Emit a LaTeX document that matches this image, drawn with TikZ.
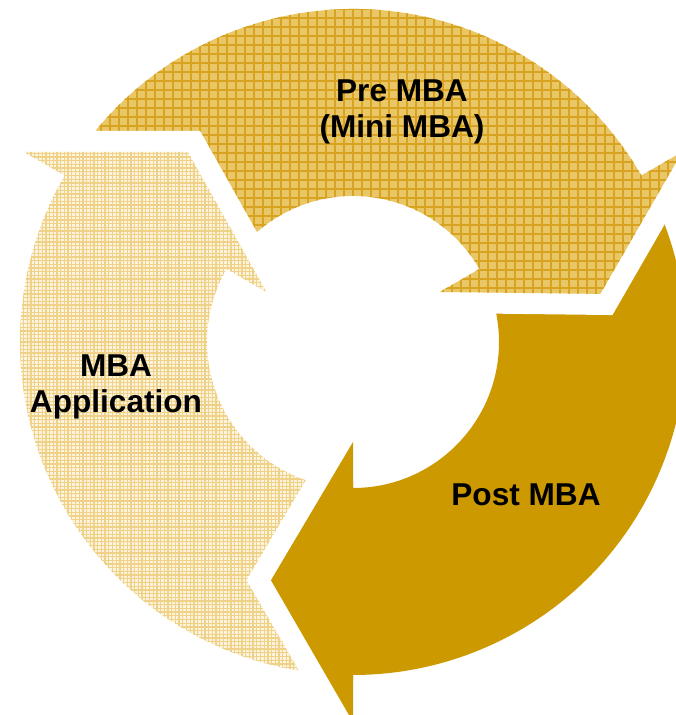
\documentclass[tikz,border=0pt]{standalone}
\usepackage{fontspec}
\setmainfont{Liberation Sans}
\definecolor{preFill}{HTML}{EAC766}
\definecolor{preLine}{HTML}{D8A320}
\definecolor{appFill}{HTML}{FCF4DF}
\definecolor{appLine}{HTML}{EFD187}
\definecolor{postFill}{HTML}{CC9900}
\tikzset{
  lbl/.style={font=\fontsize{31.6}{36.5}\selectfont\bfseries, align=center, inner sep=0pt, text=black},
  prepat/.style={draw=preLine, line width=2pt, step=9pt},
  apppat/.style={draw=appLine, line width=1.3pt, step=3.7pt},
  halo/.style={draw=white, line width=42pt, line join=miter, miter limit=10},
}
% full arrow: tail angle #1, arrowhead base angle #2
\newcommand\arrowpath[2]{(#1:333) arc[start angle=#1, end angle=#2, radius=333pt] -- (#2:380) -- ({#2-19}:252) -- (#2:100) -- (#2:146) arc[start angle=#2, end angle=#1, radius=146pt] -- cycle}
\newcommand\headpath[1]{(#1:380) -- ({#1-19}:252) -- (#1:100) -- cycle}
\newcommand\halopath[1]{(#1:380) -- ({#1-19}:252) -- (#1:100)}
\newcommand\patfill[3]{\begin{scope}\clip #1;\fill[#2] (-400,-400) rectangle (400,400);\draw[#3] (-400,-400) grid (400,400);\end{scope}}
\begin{document}
\begin{tikzpicture}[x=1pt,y=1pt]
\useasboundingbox (0,0) rectangle (676,715);
\clip (0,0) rectangle (676,715);
\begin{scope}[shift={(353,373)}]
  % bands
  \patfill{\arrowpath{267}{150}}{appFill}{apppat}
  \patfill{\arrowpath{147}{30}}{preFill}{prepat}
  \fill[postFill] \arrowpath{27}{-90};
  % arrowheads with white halo
  \draw[halo] \halopath{150};
  \patfill{\headpath{150}}{appFill}{apppat}
  \draw[halo] \halopath{30};
  \patfill{\headpath{30}}{preFill}{prepat}
  \draw[halo] \halopath{-90};
  \fill[postFill] \headpath{-90};
\end{scope}
\node[lbl, anchor=base] (pre) at (402,577) {Pre MBA\\(Mini MBA)};
\node[lbl, anchor=base] (app) at (116,302) {MBA\\Application};
\node[lbl, anchor=base] (post) at (526,209) {Post MBA};
\end{tikzpicture}
\end{document}
